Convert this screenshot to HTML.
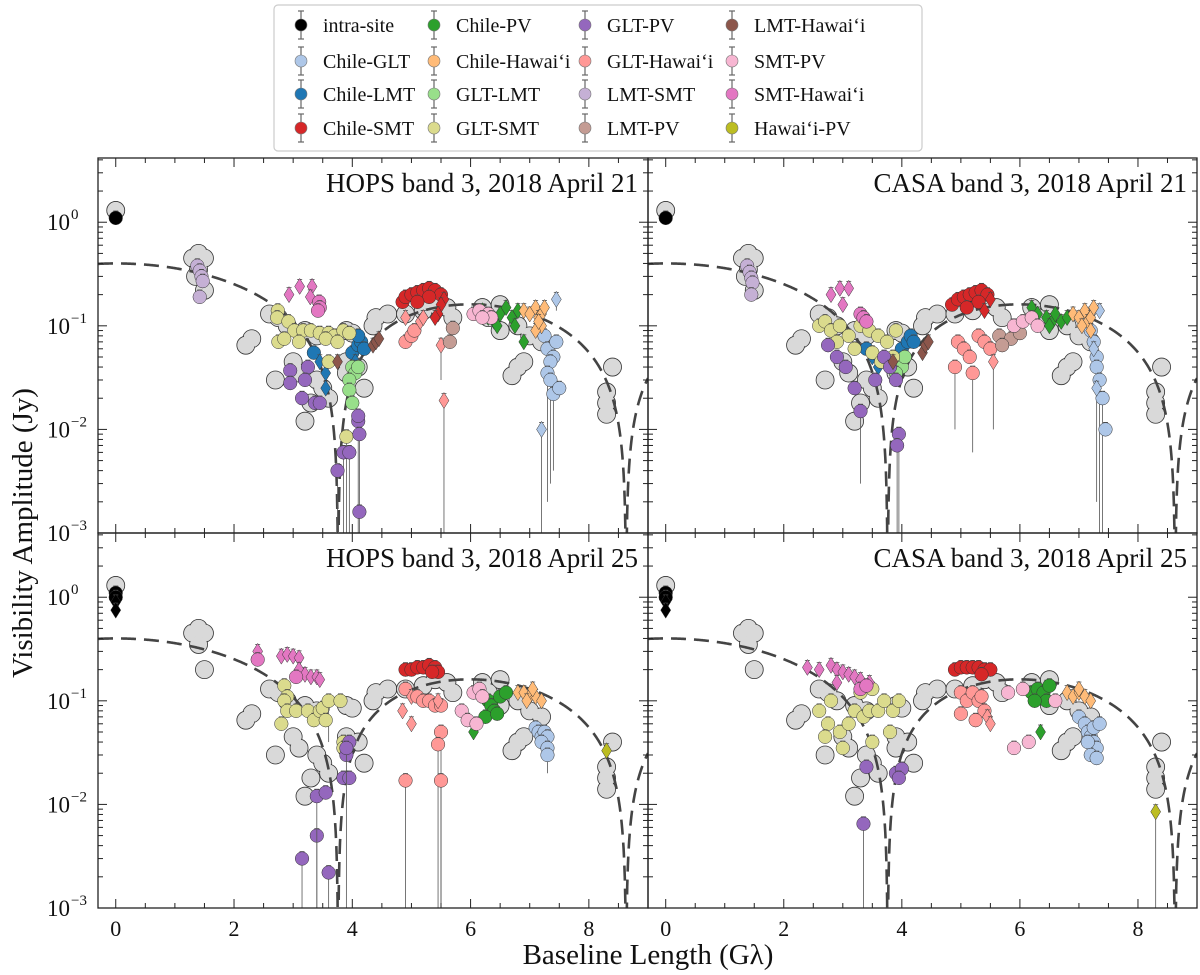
<!DOCTYPE html>
<html><head><meta charset="utf-8">
<style>
html,body{margin:0;padding:0;background:#fff;}
svg{display:block;font-family:"Liberation Serif","DejaVu Serif",serif;}
</style></head>
<body>
<svg id="chart" width="1200" height="975" viewBox="0 0 1200 975" xmlns="http://www.w3.org/2000/svg"></svg>
<script>
// ---- data ----
const seriesNames = ["intra-site","Chile-GLT","Chile-LMT","Chile-SMT","Chile-PV","Chile-Hawai‘i","GLT-LMT","GLT-SMT","GLT-PV","GLT-Hawai‘i","LMT-SMT","LMT-PV","LMT-Hawai‘i","SMT-PV","SMT-Hawai‘i","Hawai‘i-PV"];
const seriesColors = ["#000000","#aec7e8","#1f77b4","#d62728","#2ca02c","#ffbb78","#98df8a","#dbdb8d","#9467bd","#ff9896","#c5b0d5","#c49c94","#8c564b","#f7b6d2","#e377c2","#bcbd22"];
const panelTitles = ["HOPS band 3, 2018 April 21","CASA band 3, 2018 April 21","HOPS band 3, 2018 April 25","CASA band 3, 2018 April 25"];
const xTicks = [0,2,4,6,8];
const yTickExps = [0,-1,-2,-3];
const modelParams = [0.4, 3.76]; // zero-baseline flux, first null (Glambda)
const grayTop = [[0,1.3],[1.3,0.45],[1.4,0.5],[1.5,0.45],[1.4,0.35],[1.35,0.3],[1.5,0.22],[2.6,0.13],[2.75,0.12],[2.9,0.1],[2.3,0.075],[2.2,0.065],[3.2,0.09],[3.4,0.08],[3.0,0.045],[3.1,0.035],[2.7,0.03],[3.4,0.03],[3.5,0.025],[3.3,0.018],[3.2,0.012],[3.6,0.02],[3.9,0.09],[4.0,0.085],[3.9,0.045],[4.1,0.04],[3.9,0.035],[4.2,0.025],[4.4,0.12],[4.35,0.1],[4.6,0.13],[4.9,0.13],[5.2,0.14],[5.4,0.16],[5.6,0.15],[5.7,0.12],[6.2,0.15],[6.5,0.16],[6.3,0.12],[6.5,0.09],[6.8,0.1],[7.0,0.08],[7.2,0.07],[6.8,0.04],[6.7,0.033],[6.9,0.045],[8.4,0.04],[8.3,0.023],[8.3,0.018],[8.3,0.014]];
const grayBottom = [[0,1.3],[1.3,0.45],[1.4,0.5],[1.5,0.45],[1.4,0.35],[1.5,0.2],[2.6,0.13],[2.75,0.12],[2.9,0.1],[2.3,0.075],[2.2,0.065],[3.2,0.09],[3.4,0.08],[3.0,0.045],[3.1,0.035],[2.7,0.03],[3.4,0.03],[3.5,0.025],[3.3,0.018],[3.2,0.012],[3.6,0.02],[3.9,0.09],[4.0,0.085],[3.9,0.045],[4.1,0.04],[3.9,0.035],[4.2,0.025],[4.4,0.12],[4.35,0.1],[4.6,0.13],[4.9,0.13],[5.2,0.14],[5.4,0.16],[5.6,0.15],[5.7,0.12],[6.2,0.15],[6.5,0.16],[6.3,0.12],[6.5,0.09],[6.8,0.1],[7.0,0.08],[7.2,0.07],[6.8,0.04],[6.7,0.033],[6.9,0.045],[8.4,0.04],[8.3,0.023],[8.3,0.018],[8.3,0.014]];
// each point: [x (G-lambda), amplitude (Jy), lower-error-bound, diamond?]
const p1 = [
 [[0,1.1]],
 [[7.25,0.08],[7.3,0.06],[7.4,0.05],[7.35,0.045],[7.3,0.035,0.002],[7.35,0.03,0.003],[7.4,0.022,0.004],[7.5,0.025],[7.45,0.07],[7.45,0.18,0.14,1],[7.2,0.01,0.001,1]],
 [[3.35,0.055],[3.45,0.045,0,1],[3.55,0.035,0,1],[3.55,0.025,0,1],[4.0,0.055],[4.1,0.065],[4.15,0.07],[4.1,0.08],[4.2,0.06],[4.05,0.045,0,1],[3.98,0.03,0,1]],
 [[4.85,0.17],[4.9,0.19],[5.0,0.2],[5.1,0.21],[5.2,0.22],[5.3,0.23],[5.4,0.22],[5.5,0.2],[5.55,0.18,0,1],[5.5,0.16,0,1],[5.3,0.19],[5.1,0.17],[5.45,0.13,0,1],[5.4,0.12,0,1],[5.2,0.12,0,1]],
 [[6.2,0.14,0,1],[6.3,0.12,0,1],[6.4,0.11,0,1],[6.5,0.13,0,1],[6.6,0.15,0,1],[6.7,0.12,0,1],[6.75,0.1,0,1],[6.8,0.14,0,1],[6.9,0.07,0,1],[6.45,0.1,0,1]],
 [[6.9,0.14,0,1],[7.0,0.13,0,1],[7.1,0.15,0,1],[7.15,0.12,0,1],[7.2,0.13,0,1],[7.2,0.1,0,1],[7.1,0.09,0,1],[7.25,0.15,0,1],[7.15,0.11,0,1]],
 [[4.0,0.04],[4.05,0.035],[4.1,0.04],[3.95,0.03],[3.95,0.024],[4.0,0.018]],
 [[2.74,0.14],[2.73,0.12],[2.92,0.11],[3.02,0.09],[3.17,0.09],[3.3,0.09],[3.45,0.085],[3.6,0.085],[3.7,0.08],[3.85,0.09],[3.95,0.085],[2.75,0.07],[2.85,0.075],[3.1,0.07],[3.55,0.075],[3.75,0.07],[3.6,0.045],[3.9,0.0085,0.001]],
 [[2.95,0.037],[3.25,0.04],[2.95,0.028],[3.2,0.03],[3.15,0.02],[3.37,0.018],[3.45,0.018],[3.85,0.006,0.001],[3.95,0.006,0.001],[3.75,0.004,0.001],[4.1,0.012,0.001],[4.1,0.0135],[4.12,0.009,0.001],[4.12,0.0016]],
 [[4.9,0.07],[5.0,0.08],[5.05,0.09],[4.9,0.12,0,1],[5.15,0.11,0,1],[5.2,0.12,0,1],[5.5,0.065,0.03,1],[5.55,0.019,0.001,1]],
 [[1.38,0.38],[1.42,0.34],[1.45,0.30],[1.47,0.27],[1.42,0.19]],
 [[5.7,0.095],[5.65,0.07]],
 [[3.75,0.045,0,1],[4.35,0.065,0,1],[4.4,0.07,0,1],[4.45,0.075,0,1]],
 [[6.05,0.13],[6.15,0.14],[6.3,0.13],[6.35,0.12],[6.2,0.12]],
 [[2.93,0.2,0,1],[3.11,0.24,0,1],[3.32,0.24,0,1],[3.29,0.19,0,1],[3.44,0.17],[3.45,0.15],[3.42,0.14]],
 []
];
const p2 = [
 [[0,1.1]],
 [[7.2,0.09],[7.25,0.07],[7.3,0.05],[7.3,0.04,0.002],[7.35,0.03,0.001],[7.4,0.02,0.001],[7.45,0.01],[7.2,0.13,0,1],[7.35,0.14,0,1],[7.25,0.06,0,1],[7.3,0.025,0,1]],
 [[3.4,0.06],[3.5,0.05,0,1],[3.6,0.04,0,1],[4.0,0.06],[4.1,0.07],[4.15,0.08],[4.2,0.07],[4.05,0.05,0,1],[3.95,0.035,0,1]],
 [[4.85,0.16],[4.95,0.18],[5.05,0.19],[5.15,0.2],[5.25,0.21],[5.35,0.22],[5.45,0.2],[5.5,0.18,0,1],[5.3,0.17],[5.1,0.15],[5.4,0.14,0,1]],
 [[6.2,0.15,0,1],[6.3,0.13,0,1],[6.45,0.12,0,1],[6.55,0.11,0,1],[6.6,0.13,0,1],[6.7,0.11,0,1],[6.8,0.12,0,1],[6.5,0.1,0,1]],
 [[6.9,0.13,0,1],[7.0,0.12,0,1],[7.1,0.14,0,1],[7.15,0.11,0,1],[7.2,0.12,0,1],[7.05,0.1,0,1],[7.2,0.09,0,1],[7.25,0.15,0,1]],
 [[3.95,0.045],[4.0,0.04],[4.05,0.05],[3.9,0.035]],
 [[2.6,0.1],[2.7,0.11],[2.8,0.09],[2.95,0.1],[3.1,0.08],[3.3,0.1],[3.45,0.09],[3.6,0.08],[3.75,0.07],[3.9,0.09],[2.9,0.07],[3.2,0.06],[3.5,0.055],[3.85,0.05],[3.65,0.045]],
 [[2.75,0.065],[2.9,0.05],[3.05,0.04],[3.2,0.025],[3.3,0.015,0.003],[3.55,0.03],[3.7,0.05],[3.8,0.04],[3.9,0.03],[3.95,0.009,0.001],[3.92,0.007,0.001]],
 [[4.95,0.07],[5.05,0.06],[5.15,0.05],[4.9,0.04,0.01],[5.3,0.08],[5.4,0.07],[5.5,0.06],[5.55,0.045,0.01,1],[5.2,0.035,0.006]],
 [[1.38,0.38],[1.42,0.33],[1.45,0.29],[1.47,0.26],[1.45,0.2]],
 [[5.65,0.08],[5.85,0.075],[6.0,0.085],[5.7,0.065]],
 [[4.35,0.055,0,1],[4.4,0.065,0,1],[4.45,0.07,0,1],[3.85,0.045,0,1]],
 [[5.9,0.1],[6.05,0.11],[6.2,0.12],[6.3,0.1]],
 [[2.8,0.2,0,1],[2.95,0.23,0,1],[3.1,0.23,0,1],[3.0,0.16,0,1],[3.3,0.13],[3.35,0.12],[3.4,0.11]],
 []
];
const p3 = [
 [[0,1.1],[0,1.0],[0,0.9,0,1],[0,0.75,0,1]],
 [[7.1,0.055],[7.15,0.05],[7.2,0.045],[7.25,0.05],[7.3,0.045],[7.2,0.04],[7.3,0.035],[7.3,0.03,0.02]],
 [],
 [[4.9,0.2],[5.0,0.2],[5.1,0.21],[5.2,0.21],[5.3,0.22],[5.4,0.21],[5.45,0.19],[5.35,0.19]],
 [[6.2,0.11],[6.3,0.1],[6.35,0.09],[6.4,0.08],[6.5,0.11],[6.6,0.12],[6.25,0.07],[6.45,0.075],[6.05,0.05,0,1]],
 [[6.8,0.12,0,1],[6.9,0.12,0,1],[7.0,0.11,0,1],[7.1,0.11,0,1],[7.2,0.1,0,1],[7.05,0.13,0,1],[6.95,0.1,0,1]],
 [],
 [[2.85,0.14],[2.9,0.11],[2.85,0.1],[2.9,0.08],[3.05,0.08],[3.25,0.08],[3.35,0.065],[3.45,0.08],[3.5,0.085],[3.6,0.1,0.04],[3.8,0.1],[3.55,0.065],[2.8,0.06,0,0],[3.85,0.04],[3.85,0.035]],
 [[3.15,0.003,0.001],[3.4,0.005,0.001],[3.4,0.012,0.001],[3.6,0.0022,0.001],[3.55,0.013],[3.85,0.018],[3.9,0.03],[3.95,0.04],[3.95,0.018],[3.9,0.035,0.001]],
 [[4.9,0.13],[5.0,0.11,0,1],[4.85,0.08,0,1],[5.1,0.11],[5.2,0.1],[5.3,0.1],[5.4,0.09],[5.5,0.09],[5.45,0.1,0,1],[5.0,0.06,0,1],[5.5,0.05,0.001],[5.45,0.038,0.001],[4.9,0.017,0.001],[5.5,0.017,0.001]],
 [],
 [],
 [],
 [[5.85,0.08],[5.95,0.065],[6.1,0.06],[6.05,0.12],[6.15,0.13],[6.2,0.11]],
 [[2.4,0.3,0,1],[2.4,0.25],[2.8,0.27,0,1],[2.9,0.28,0,1],[3.0,0.27,0,1],[3.1,0.26,0,1],[3.1,0.2,0,1],[3.2,0.18,0,1],[3.3,0.17,0,1],[3.4,0.17,0,1],[3.45,0.16,0,1],[3.05,0.17]],
 [[8.3,0.033,0,1]]
];
const p4 = [
 [[0,1.1],[0,1.0],[0,0.9,0,1],[0,0.75,0,1]],
 [[7.0,0.07],[7.1,0.06],[7.15,0.05],[7.2,0.045],[7.25,0.04],[7.3,0.035],[7.2,0.03],[7.3,0.028],[7.25,0.055],[7.15,0.04],[7.35,0.06]],
 [],
 [[4.9,0.2],[5.0,0.21],[5.1,0.21],[5.2,0.21],[5.3,0.21],[5.4,0.2],[5.5,0.2],[5.35,0.18]],
 [[6.2,0.12],[6.3,0.13],[6.4,0.12],[6.45,0.1],[6.5,0.14],[6.25,0.1],[6.35,0.05,0,1]],
 [[6.8,0.12,0,1],[6.9,0.11,0,1],[7.0,0.12,0,1],[7.1,0.11,0,1],[7.2,0.1,0,1],[7.0,0.13,0,1]],
 [],
 [[2.6,0.08],[2.75,0.06],[2.7,0.045],[2.95,0.05],[3.1,0.06],[3.2,0.08],[3.35,0.07],[3.45,0.08],[3.6,0.08],[3.7,0.1],[3.85,0.08],[3.95,0.1],[3.0,0.035],[3.5,0.04],[3.8,0.05],[3.3,0.12],[3.5,0.13],[2.8,0.1]],
 [[3.35,0.0065,0.001],[3.4,0.023],[3.9,0.02],[4.0,0.022],[3.95,0.018]],
 [[5.0,0.12],[5.1,0.1],[5.2,0.12],[5.3,0.1],[5.4,0.08],[5.0,0.075],[5.25,0.065],[5.45,0.07,0,1],[5.5,0.06,0,1],[5.35,0.11]],
 [],
 [],
 [],
 [[5.9,0.035],[6.15,0.04],[6.6,0.1],[5.8,0.12],[6.05,0.13]],
 [[2.4,0.21,0,1],[2.6,0.2,0,1],[2.8,0.22,0,1],[2.9,0.2,0,1],[3.0,0.19,0,1],[3.1,0.18,0,1],[3.2,0.17,0,1],[3.3,0.16,0,1],[3.45,0.15,0,1],[3.3,0.13],[3.4,0.14],[2.9,0.15,0,1]],
 [[8.3,0.0085,0.001,1]]
];
const panelData = [p1,p2,p3,p4];
const panelGray = [grayTop, grayTop, grayBottom, grayBottom];

// ---- rendering ----
const NS = "http://www.w3.org/2000/svg";
const svg = document.getElementById("chart");
function mk(tag, attrs, parent){
  const e = document.createElementNS(NS, tag);
  for (const k in attrs) e.setAttribute(k, attrs[k]);
  (parent||svg).appendChild(e);
  return e;
}
const panels = [
  {x0:98,x1:648,y0:158,y1:533,left:true,bottom:false},
  {x0:648,x1:1197,y0:158,y1:533,left:false,bottom:false},
  {x0:98,x1:648,y0:533,y1:908,left:true,bottom:true},
  {x0:648,x1:1197,y0:533,y1:908,left:false,bottom:true}
];
const XMIN=-0.3, XMAX=9.0, LMIN=-3, LMAX=0.62;
function bessel0(x){
  let s=0, t=1;
  for(let k=0;k<40;k++){ if(k>0) t *= -(x*x/4)/(k*k); s+=t; }
  return s;
}
function clipSafe(v){return Math.max(v,1e-4);}

panels.forEach((P, pi) => {
  const g = mk("g", {});
  
  
  const sx = x => P.x0 + (x - XMIN) / (XMAX - XMIN) * (P.x1 - P.x0);
  const sy = v => P.y1 - (Math.log10(clipSafe(v)) - LMIN) / (LMAX - LMIN) * (P.y1 - P.y0);
  const cid = "clip" + pi;
  const cp = mk("clipPath", {id: cid}, g);
  mk("rect", {x:P.x0, y:P.y0, width:P.x1-P.x0, height:P.y1-P.y0}, cp);
  const plot = mk("g", {"clip-path": "url(#"+cid+")"}, g);

  const gg = mk("g", {}, plot);
  
  
  panelGray[pi].forEach(p => {
    const c = mk("circle", {cx:sx(p[0]), cy:sy(p[1]), r:9, fill:"#d9d9d9", stroke:"#333", "stroke-width":0.8}, gg);
    
    
  });
  panelGray[pi].forEach(p => {
    mk("circle", {cx:sx(p[0]), cy:sy(p[1]), r:8.2, fill:"#d9d9d9"}, gg);
  });

  let d = "";
  for (let i=0;i<=900;i++){
    const u = XMIN + (XMAX-XMIN)*i/900;
    const v = modelParams[0]*Math.abs(bessel0(2.405*u/modelParams[1]));
    d += (i?"L":"M") + sx(u).toFixed(2) + "," + sy(v).toFixed(2);
  }
  const mc = mk("path", {d:d, fill:"none", stroke:"#444", "stroke-width":2.6, "stroke-dasharray":"15,8"}, plot);
  
  

  panelData[pi].forEach((pts, si) => {
    const sg = mk("g", {}, plot);
    
    
    pts.forEach(p => {
      const cx = sx(p[0]), cy = sy(p[1]);
      const lo = p[2] ? sy(p[2]) : cy + 7;
      mk("line", {x1:cx, x2:cx, y1:cy-7, y2:lo, stroke:"#555", "stroke-width":0.8}, sg);
      mk("line", {x1:cx-2.5, x2:cx+2.5, y1:cy-7, y2:cy-7, stroke:"#555", "stroke-width":0.8}, sg);
      let m;
      if (p[3]) {
        m = mk("path", {d:`M${cx},${cy-8}L${cx+5},${cy}L${cx},${cy+8}L${cx-5},${cy}Z`, fill:seriesColors[si], stroke:"#333", "stroke-width":0.5}, sg);
      } else {
        m = mk("circle", {cx:cx, cy:cy, r:6.8, fill:seriesColors[si], stroke:"#333", "stroke-width":0.5}, sg);
      }
      
      
    });
  });

  mk("rect", {x:P.x0, y:P.y0, width:P.x1-P.x0, height:P.y1-P.y0, fill:"none", stroke:"#222", "stroke-width":1.3}, g);

  for (let t=0; t<=XMAX+1e-9; t+=0.5){
    const X = sx(t), major = Math.abs(t - Math.round(t/2)*2) < 1e-9;
    const L = major ? 9 : 5;
    mk("line", {x1:X, x2:X, y1:P.y1, y2:P.y1-L, stroke:"#222", "stroke-width":1}, g);
    mk("line", {x1:X, x2:X, y1:P.y0, y2:P.y0+L, stroke:"#222", "stroke-width":1}, g);
  }
  if (P.bottom){
    xTicks.forEach(t => {
      const tx = mk("text", {x:sx(t), y:P.y1+28, "text-anchor":"middle", "font-size":22, fill:"#111"}, g);
      tx.textContent = t;
      
      
    });
  }
  for (let e=-4; e<=1; e++){
    for (let m=1; m<=9; m++){
      const v = m*Math.pow(10,e), lv = Math.log10(v);
      if (lv < LMIN-1e-9 || lv > LMAX) continue;
      const Y = sy(v), L = m===1 ? 9 : 5;
      mk("line", {x1:P.x0, x2:P.x0+L, y1:Y, y2:Y, stroke:"#222", "stroke-width":1}, g);
      mk("line", {x1:P.x1, x2:P.x1-L, y1:Y, y2:Y, stroke:"#222", "stroke-width":1}, g);
    }
  }
  if (P.left){
    yTickExps.forEach(e => {
      const Y = sy(Math.pow(10,e));
      const tx = mk("text", {x:P.x0-28, y:Y+8, "text-anchor":"end", "font-size":23, fill:"#111"}, g);
      tx.textContent = "10";
      
      
      const sup = mk("text", {x:P.x0-27, y:Y-3, "text-anchor":"start", "font-size":15, fill:"#111"}, g);
      sup.textContent = e===0 ? "0" : "\u2212" + (-e);
    });
  }
  const title = mk("text", {x:P.x1-10, y:P.y0+34, "text-anchor":"end", "font-size":27, fill:"#111"}, g);
  title.textContent = panelTitles[pi];
  
  
});

const yt = mk("text", {x:0, y:0, transform:"translate(32,533) rotate(-90)", "text-anchor":"middle", "font-size":29, fill:"#111"});
yt.textContent = "Visibility Amplitude (Jy)";


const xt = mk("text", {x:648, y:964, "text-anchor":"middle", "font-size":29, fill:"#111"});
xt.textContent = "Baseline Length (G\u03bb)";



const lg = mk("g", {});


mk("rect", {x:274, y:5, width:648, height:146, rx:4, fill:"#fff", stroke:"#ccc", "stroke-width":1.2}, lg);
const colX = [301, 434, 585, 732];
const rowY = [25, 61, 94, 128];
seriesNames.forEach((n, i) => {
  const c = Math.floor(i/4), r = i%4;
  const x = colX[c], y = rowY[r];
  const eg = mk("g", {}, lg);
  
  
  mk("line", {x1:x, x2:x, y1:y-14, y2:y+14, stroke:"#666", "stroke-width":1.2}, eg);
  mk("line", {x1:x-3, x2:x+3, y1:y-14, y2:y-14, stroke:"#666", "stroke-width":1.2}, eg);
  mk("line", {x1:x-3, x2:x+3, y1:y+14, y2:y+14, stroke:"#666", "stroke-width":1.2}, eg);
  mk("circle", {cx:x, cy:y, r:6, fill:seriesColors[i], stroke:"#777", "stroke-width":0.6}, eg);
  const t = mk("text", {x:x+22, y:y+7, "font-size":20, fill:"#111"}, eg);
  t.textContent = n;
});
</script>
</body></html>
